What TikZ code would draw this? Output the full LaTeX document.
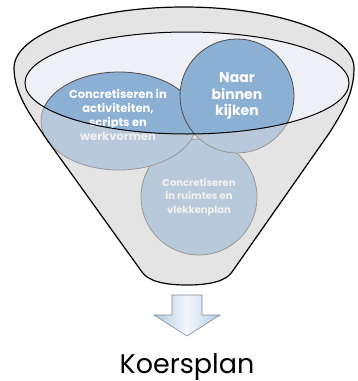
\documentclass[tikz,border=0pt]{standalone}
\usepackage{fontspec}
\setmainfont{Poppins}
\usetikzlibrary{shapes.geometric}
\definecolor{trechtergrijs}{RGB}{228,228,228}
\definecolor{trechterbinnen}{RGB}{238,240,246}
\definecolor{bolblauw}{RGB}{140,175,212}
\definecolor{pijlblauw}{RGB}{180,202,228}
\definecolor{pijlrand}{RGB}{125,138,152}
\def\trechterrand{(354,68) .. controls (354,95) and (341,114) .. (330,132) -- (232,272)
  .. controls (226,281) and (210,285) .. (187,285) .. controls (164,285) and (148,281) .. (142,272)
  -- (45,137) .. controls (33,118) and (14,95) .. (14,68)
  arc[start angle=180, end angle=360, x radius=170, y radius=61] -- cycle}

\begin{document}
\begin{tikzpicture}[x=1pt, y=-1pt,
    bol/.style={draw=black!70, line width=0.8pt, fill=bolblauw, text=white, align=center, inner sep=0pt},
    bolletters/.style={text=white, align=center, font=\bfseries\fontsize{11.5}{14}\selectfont}]
  \useasboundingbox (0,0) rectangle (357,381);

  % Trechter, achterkant
  \fill[trechtergrijs] \trechterrand;
  \fill[trechterbinnen] (187,83) ellipse[x radius=162, y radius=51];

  % Bollen in de trechter
  \node[bol, circle, minimum size=116pt, font=\bfseries\fontsize{10}{13.5}\selectfont] (ruimtes) at (199,197) {Concretiseren\\in ruimtes en\\vlekkenplan};
  \node[bol, ellipse, minimum width=156pt, minimum height=98pt] (activiteiten) at (119,121) {};
  \node[bolletters] (activiteitentekst) at (118,115) {Concretiseren in\\activiteiten,\\scripts en\\werkvormen};
  \node[bol, circle, minimum size=114pt, font=\bfseries\fontsize{14}{16.5}\selectfont] (binnen) at (237,96) {Naar\\binnen\\kijken};

  % Trechter, voorkant
  \fill[trechtergrijs, opacity=0.5, even odd rule] \trechterrand (187,83) ellipse[x radius=162, y radius=51];
  \draw[line width=1.2pt] \trechterrand;
  \draw[line width=1pt] (187,83) ellipse[x radius=162, y radius=51];

  % Pijl naar het resultaat
  \draw[pijlrand, line width=0.6pt, left color=pijlblauw, right color=pijlblauw, middle color=white!85!pijlblauw]
    (172,295) -- (202,295) -- (202,315) -- (220,315) -- (187,336) -- (154,315) -- (172,315) -- cycle;

  % Resultaat
  \node[font=\fontsize{27}{30}\selectfont, anchor=base] (koersplan) at (187,373) {Koersplan};
\end{tikzpicture}
\end{document}
